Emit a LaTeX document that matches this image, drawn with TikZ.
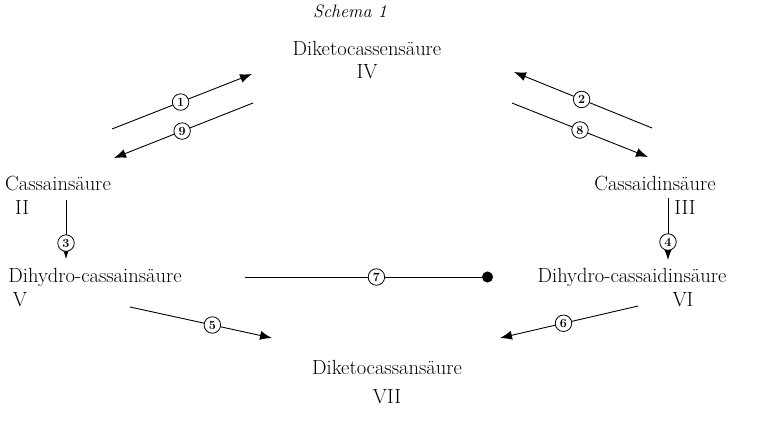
\documentclass[tikz,border=0pt]{standalone}
\usetikzlibrary{arrows.meta}
\begin{document}
\begin{tikzpicture}[x=1pt,y=-1pt,
  chem/.style={inner sep=0pt,font=\fontsize{20.5}{24}\selectfont},
  rnum/.style={inner sep=0pt,font=\fontsize{20.5}{24}\selectfont},
  circ/.style={circle,draw,line width=0.8pt,fill=white,inner sep=0.5pt,minimum size=16.5pt,font=\fontsize{12.5}{12.5}\selectfont\bfseries},
  rx/.style={line width=0.9pt,-{Latex[length=12pt,width=9pt]}},
  ry/.style={line width=0.9pt,-{Circle[length=11pt,width=11pt]}}]
\useasboundingbox (0,0) rectangle (761,429);
\node[inner sep=0pt,font=\fontsize{18}{22}\selectfont\itshape] (schema) at (350,11) {Schema 1};
\node[chem] (iv) at (367,48) {Diketocassensäure};
\node[rnum] (ivn) at (367,72) {IV};
\node[chem] (ii) at (58,183) {Cassainsäure};
\node[rnum] (iin) at (22,207) {II};
\node[chem] (iii) at (655,183) {Cassaidinsäure};
\node[rnum] (iiin) at (685,207) {III};
\node[chem] (v) at (95,277) {Dihydro-cassainsäure};
\node[rnum] (vn) at (20,300) {V};
\node[chem] (vi) at (632,277) {Dihydro-cassaidinsäure};
\node[rnum] (vin) at (683,300) {VI};
\node[chem] (vii) at (387,367) {Diketocassansäure};
\node[rnum] (viin) at (387,397) {VII};
% arrow end points
\coordinate (a1s) at (112,129); \coordinate (a1e) at (252,74);
\coordinate (a9s) at (253,103); \coordinate (a9e) at (114,158);
\coordinate (a2s) at (652,128); \coordinate (a2e) at (514,72);
\coordinate (a8s) at (512,103); \coordinate (a8e) at (648,157);
\coordinate (a3s) at (66,200); \coordinate (a3e) at (66,259);
\coordinate (a4s) at (668,198); \coordinate (a4e) at (668,260);
\coordinate (a7s) at (245,277); \coordinate (a7e) at (493,277);
\coordinate (a5s) at (130,307); \coordinate (a5e) at (272,338);
\coordinate (a6s) at (638,306); \coordinate (a6e) at (500,338);
\draw[rx] (a1s) -- node[circ,pos=0.49] (c1) {1} (a1e);
\draw[rx] (a9s) -- node[circ,pos=0.51] (c9) {9} (a9e);
\draw[rx] (a2s) -- node[circ,pos=0.51] (c2) {2} (a2e);
\draw[rx] (a8s) -- node[circ,pos=0.5] (c8) {8} (a8e);
\draw[rx] (a3s) -- node[circ,pos=0.73] (c3) {3} (a3e);
\draw[rx] (a4s) -- node[circ,pos=0.71] (c4) {4} (a4e);
\draw[ry] (a7s) -- node[circ,pos=0.53] (c7) {7} (a7e);
\draw[rx] (a5s) -- node[circ,pos=0.58] (c5) {5} (a5e);
\draw[rx] (a6s) -- node[circ,pos=0.54] (c6) {6} (a6e);
\end{tikzpicture}
\end{document}
